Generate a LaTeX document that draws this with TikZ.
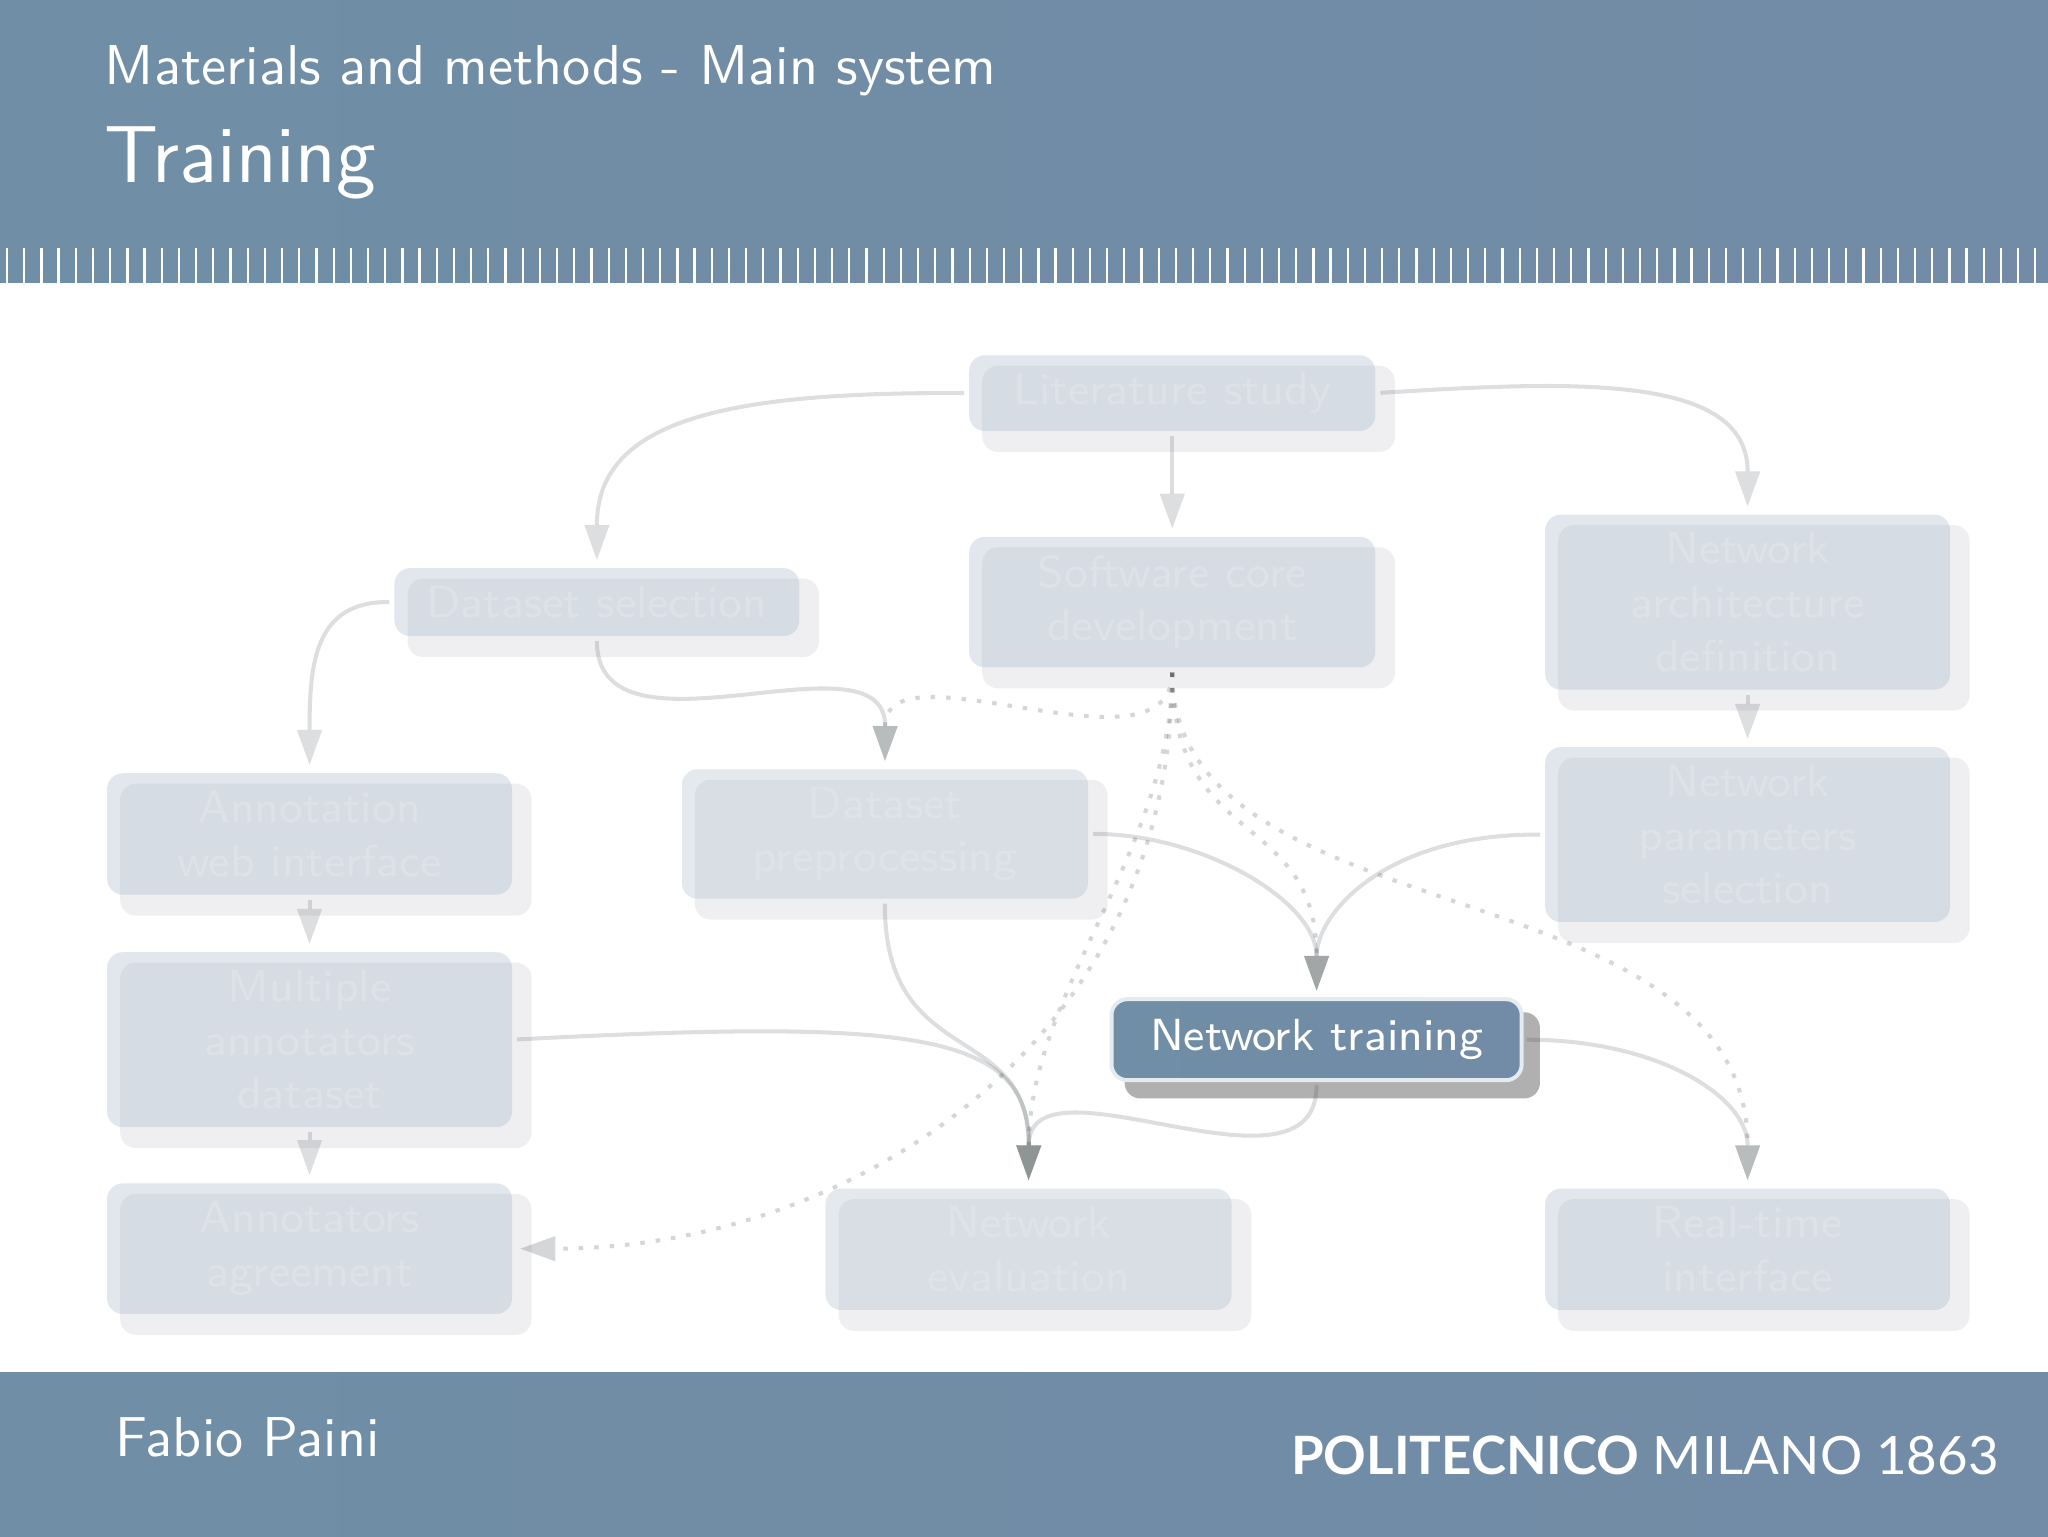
\documentclass[tikz,border=0pt]{standalone}
\usepackage{fontspec}
\usetikzlibrary{arrows.meta}
\newfontfamily\polifont{Lato}
\definecolor{bandL}{HTML}{708EA6}
\definecolor{bandR}{HTML}{728BA6}
\definecolor{conncol}{HTML}{2A3335}
\definecolor{frontcol}{HTML}{9BAFC3}
\definecolor{frontgrey}{HTML}{A3B6C2}
\definecolor{shadecol}{HTML}{14143A}
\tikzset{
  x=0.23226pt,y=-0.23226pt,
  band/.style={left color=bandL,right color=bandR,draw=none},
  stripe/.style={white,line width=0.4pt},
  boxshade/.style={fill=shadecol,fill opacity=0.068,rounded corners=2.8pt},
  flow/.style={rectangle,rounded corners=2.8pt,fill=frontcol,fill opacity=0.3,text opacity=0.17,text=white,
    inner sep=0pt,outer sep=0pt,align=center,font=\sffamily\fontsize{8}{9.55}\selectfont},
  active/.style={rectangle,rounded corners=2.8pt,left color=bandL,right color=bandR,draw=white!82!bandL,line width=0.7pt,
    text=white,inner sep=0pt,outer sep=0pt,align=center,font=\sffamily\fontsize{8}{9.55}\selectfont},
  conn/.style={draw=conncol,opacity=0.16,line width=0.72pt,shorten <=0.9pt,shorten >=1.5pt,
    -{Triangle[length=6.2pt,width=4.5pt,line width=0pt]}},
  dotconn/.style={conn,dash pattern=on 0.8pt off 1.95pt,opacity=0.2},
  head/.style={text=white,anchor=base west,inner sep=0pt,font=\sffamily}
}
\newcommand{\flowbox}[6]{%
  \fill[boxshade] (#2+10,#3+8) rectangle (#4+15,#5+16);
  \pgfmathsetlengthmacro\bw{(#4-#2)*0.23226}%
  \pgfmathsetlengthmacro\bh{(#5-#3)*0.23226}%
  \node[flow,minimum width=\bw,minimum height=\bh] (#1) at ({(#2+#4)/2},{(#3+#5)/2}) {#6};
}
\begin{document}
\begin{tikzpicture}
\useasboundingbox (0,0) rectangle (1568,1176);
% bands
\fill[band] (0,0) rectangle (1568,216.4);
\fill[band] (0,1051) rectangle (1568,1176);
\foreach \i in {0,...,119} \draw[stripe] ({5.4+\i*13.16},189.6) -- ({5.4+\i*13.16},216.4);
% header and footer text
\node[head,font=\sffamily\fontsize{10}{13}\selectfont] (sect) at (79.5,64.5) {Materials and methods - Main system};
\node[head,font=\sffamily\fontsize{14.4}{16}\selectfont] (ttl) at (79.5,140) {Training};
\node[head,font=\sffamily\fontsize{10}{13}\selectfont] (auth) at (87.5,1115) {Fabio Paini};
\node[text=white,anchor=base east,inner sep=0pt,font=\polifont\fontsize{9.4}{11}\selectfont] (poli) at (1531,1129) {\textbf{POLITECNICO} MILANO 1863};
% boxes
\flowbox{lit}{742}{272}{1053}{330}{Literature study}
\flowbox{soft}{742}{411}{1053}{511}{Software core\\development}
\flowbox{arch}{1183}{394}{1493}{528}{Network\\architecture\\definition}
\flowbox{params}{1183}{572}{1493}{706}{Network\\parameters\\selection}
\flowbox{dsel}{302}{435}{612}{487}{Dataset selection}
\flowbox{web}{82}{592}{392}{685}{Annotation\\web interface}
\flowbox{multi}{82}{729}{392}{863}{Multiple\\annotators\\dataset}
\flowbox{agree}{82}{906}{392}{1006}{Annotators\\agreement}
\begin{scope}[flow/.append style={fill=frontgrey}]
\flowbox{prep}{522}{589}{833}{688}{Dataset\\preprocessing}
\flowbox{eval}{632}{910}{943}{1003}{Network\\evaluation}
\end{scope}
\flowbox{rt}{1183}{910}{1493}{1003}{Real-time\\interface}
% active box
\fill[black,fill opacity=0.31,rounded corners=2.8pt] (861,775) rectangle (1179,841);
\pgfmathsetlengthmacro\bw{(1165-851)*0.23226}
\pgfmathsetlengthmacro\bh{(827-765)*0.23226}
\node[active,minimum width=\bw,minimum height=\bh] (train) at (1008,796) {Network training};
% connectors
\draw[conn] (lit.west) .. controls (560,300) and (457,320) .. (dsel.north);
\draw[conn] (lit.east) .. controls (1200,292) and (1338,285) .. (arch.north);
\draw[conn] (lit.south) -- (soft.north);
\draw[dotconn] (soft.south) .. controls (897,600) and (678,490) .. (prep.north);
\draw[conn] (dsel.south) .. controls (457,590) and (678,480) .. (prep.north);
\draw[conn] (dsel.west) .. controls (240,460) and (237,510) .. (web.north);
\draw[conn] (web.south) -- (multi.north);
\draw[conn] (multi.south) -- (agree.north);
\draw[conn] (arch.south) -- (params.north);
\draw[conn] (multi.east) .. controls (700,780) and (788,790) .. (eval.north);
\draw[conn] (prep.south) .. controls (677,820) and (788,780) .. (eval.north);
\draw[conn] (prep.east) .. controls (920,638) and (1008,690) .. (train.north);
\draw[conn] (params.west) .. controls (1060,638) and (1008,700) .. (train.north);
\draw[dotconn] (soft.south) .. controls (897,650) and (1008,620) .. (train.north);
\draw[dotconn] (soft.south) .. controls (897,720) and (1338,660) .. (rt.north);
\draw[dotconn] (soft.south) .. controls (897,650) and (788,760) .. (eval.north);
\draw[dotconn] (soft.south) .. controls (897,800) and (650,956) .. (agree.east);
\draw[conn] (train.east) .. controls (1270,796) and (1338,840) .. (rt.north);
\draw[conn] (train.south) .. controls (1008,928) and (788,802) .. (eval.north);
\end{tikzpicture}
\end{document}
